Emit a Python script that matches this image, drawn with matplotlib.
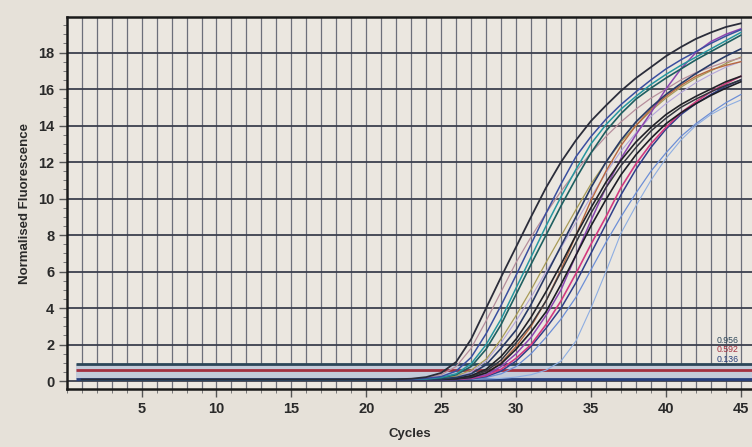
import matplotlib
matplotlib.use("Agg")
import matplotlib.pyplot as plt
from matplotlib.ticker import MultipleLocator

# ---------------- data ----------------
early_cycles = list(range(1, 22))
early_baseline = [0.08] * 21            # flat baseline of all traces, cycles 1-21
late_cycles = list(range(22, 46))       # cycles 22..45

curve_black_a = [0.10,0.13,0.22,0.45,1.05,2.30,4.00,5.70,7.35,9.00,10.60,12.00,13.20,14.25,15.10,15.90,16.60,17.20,17.80,18.30,18.75,19.10,19.40,19.60]
curve_mauve   = [0.10,0.12,0.18,0.35,0.80,1.80,3.30,4.90,6.50,7.90,9.20,10.40,11.50,12.50,13.40,14.20,14.90,15.50,16.00,16.50,16.90,17.20,17.50,17.70]
curve_blue    = [0.10,0.10,0.15,0.25,0.55,1.30,2.60,4.15,5.80,7.50,9.20,10.80,12.30,13.40,14.35,15.15,15.85,16.50,17.10,17.60,18.05,18.50,18.90,19.25]
curve_teal    = [0.10,0.10,0.12,0.20,0.40,0.95,2.00,3.40,5.10,6.80,8.50,10.10,11.60,13.00,14.05,14.90,15.60,16.25,16.80,17.30,17.75,18.20,18.65,19.10]
curve_dkteal  = [0.10,0.10,0.12,0.18,0.35,0.80,1.75,3.10,4.75,6.40,8.00,9.60,11.10,12.50,13.70,14.65,15.45,16.05,16.60,17.10,17.60,18.05,18.50,18.95]
curve_olive   = [0.10,0.10,0.10,0.15,0.28,0.60,1.20,2.30,3.60,5.00,6.50,7.95,9.40,10.80,12.00,13.10,14.00,14.80,15.50,16.10,16.60,17.00,17.40,17.75]
curve_lavender= [0.10,0.10,0.10,0.13,0.25,0.50,1.10,2.10,3.30,4.60,6.00,7.30,8.70,10.10,11.40,12.60,13.60,14.50,15.20,15.80,16.35,16.80,17.20,17.50]
curve_navy    = [0.10,0.10,0.10,0.12,0.20,0.40,0.90,1.80,2.80,4.20,5.80,7.40,9.00,10.60,12.00,13.20,14.20,15.00,15.70,16.30,16.85,17.35,17.80,18.20]
curve_black_1 = [0.10,0.10,0.10,0.10,0.15,0.30,0.65,1.35,2.30,3.50,4.90,6.40,8.00,9.50,10.90,12.10,13.10,13.90,14.60,15.15,15.60,16.00,16.40,16.70]
curve_black_2 = [0.10,0.10,0.10,0.10,0.13,0.25,0.55,1.15,2.10,3.10,4.40,6.00,7.60,9.20,10.60,11.80,12.80,13.70,14.40,15.00,15.45,15.85,16.20,16.50]
curve_black_3 = [0.10,0.10,0.10,0.10,0.12,0.20,0.45,0.95,1.75,2.70,3.80,5.30,6.90,8.50,9.95,11.30,12.40,13.30,14.10,14.70,15.20,15.65,16.05,16.40]
curve_purple  = [0.10,0.10,0.10,0.10,0.10,0.18,0.35,0.80,1.50,2.40,3.60,5.00,6.90,8.80,10.60,12.20,13.50,14.70,16.00,17.10,18.00,18.60,19.00,19.30]
curve_pink    = [0.10,0.10,0.10,0.10,0.10,0.15,0.30,0.65,1.25,2.00,3.10,4.40,5.90,7.50,9.00,10.60,11.90,13.00,13.90,14.70,15.30,15.85,16.30,16.70]
curve_orange  = [0.10,0.10,0.10,0.10,0.10,0.20,0.45,1.00,1.90,3.00,4.40,6.10,8.00,9.90,11.50,12.90,14.00,14.90,15.60,16.20,16.70,17.05,17.30,17.50]
curve_dkblue  = [0.10,0.10,0.10,0.10,0.10,0.12,0.25,0.55,1.10,1.90,2.90,4.00,5.40,7.00,8.60,10.20,11.60,12.80,13.80,14.60,15.20,15.70,16.15,16.50]
curve_ltblue1 = [0.10,0.10,0.10,0.10,0.10,0.12,0.20,0.40,0.80,1.50,2.40,3.40,4.60,6.10,7.60,9.00,10.30,11.50,12.50,13.40,14.10,14.70,15.25,15.70]
curve_ltblue2 = [0.10,0.10,0.10,0.10,0.10,0.10,0.12,0.15,0.22,0.35,0.60,1.10,2.20,4.00,6.00,8.10,9.60,11.00,12.20,13.20,14.00,14.60,15.05,15.40]

thresholds = [0.956, 0.592, 0.136]
threshold_labels = ["0.956", "0.592", "0.136"]

x_ticks = [5, 10, 15, 20, 25, 30, 35, 40, 45]
y_ticks = [0, 2, 4, 6, 8, 10, 12, 14, 16, 18]

# ---------------- styling ----------------
plt.rcParams['font.family'] = ['Liberation Sans', 'DejaVu Sans']

fig = plt.figure(figsize=(7.52, 4.47), dpi=100, facecolor='#e6e1d9')
ax = fig.add_axes([0.0887, 0.129, 0.9113, 0.833])
ax.set_facecolor('#ebe7e0')

ax.set_xlim(0, 45.75)
ax.set_ylim(-0.45, 19.95)

# grid
for c in range(1, 46):
    ax.axvline(c, color='#6c6f7a', lw=0.9, zorder=1)
for v in y_ticks:
    ax.axhline(v, color='#3c404e', lw=1.3, zorder=1)

# threshold band and lines
ax.axhspan(thresholds[2], thresholds[0], xmin=0.6 / 45.75, color='#c3cbd9', zorder=2, lw=0)
th_colors = ['#2c4658', '#a3303f', '#263f7c']
for t, col in zip(thresholds, th_colors):
    ax.plot([0.6, 45.75], [t, t], color=col, lw=2.0, zorder=3, solid_capstyle='butt')

series = [
    (curve_ltblue2, '#8eaee2', 0.8),
    (curve_ltblue1, '#6d8fd6', 0.9),
    (curve_lavender, '#b3a6da', 0.8),
    (curve_olive, '#a89b57', 0.9),
    (curve_mauve, '#b68e9c', 0.9),
    (curve_orange, '#b8683f', 1.0),
    (curve_dkblue, '#2f3f8a', 1.1),
    (curve_pink, '#d23a80', 1.2),
    (curve_purple, '#8c45b0', 1.1),
    (curve_black_3, '#1d1e25', 1.2),
    (curve_black_2, '#34363e', 1.1),
    (curve_black_1, '#222228', 1.2),
    (curve_navy, '#283a66', 1.2),
    (curve_dkteal, '#1e5f60', 1.2),
    (curve_teal, '#2596a0', 1.1),
    (curve_blue, '#3a4fa0', 1.1),
    (curve_black_a, '#2b2d3a', 1.3),
]
for vals, col, lw in series:
    xs = early_cycles + late_cycles
    ys = early_baseline + vals
    ax.plot(xs, ys, color=col, lw=lw, zorder=4)

for t, lab, col, yv in zip(thresholds, threshold_labels, th_colors, [2.22, 1.71, 1.20]):
    ax.text(43.4, yv, lab, color=col, fontsize=6.3, ha='left', va='center', zorder=5, clip_on=True)

# spines
for s in ['left', 'bottom', 'top']:
    ax.spines[s].set_linewidth(1.8)
    ax.spines[s].set_color('#1a1a1a')
ax.spines['right'].set_visible(False)

ax.set_xticks(x_ticks)
ax.xaxis.set_minor_locator(MultipleLocator(1))
ax.set_yticks(y_ticks)
ax.yaxis.set_minor_locator(MultipleLocator(0.5))
ax.tick_params(axis='both', which='major', direction='out', length=6, width=1.0,
               color='#555555', labelsize=10.5, labelcolor='#2a2a2a', pad=3)
ax.tick_params(axis='both', which='minor', direction='out', length=3, width=0.7, color='#777777')
for lab in ax.get_xticklabels() + ax.get_yticklabels():
    lab.set_fontweight('bold')

ax.set_xlabel('Cycles', fontsize=9.5, fontweight='bold', color='#2a2a2a', labelpad=9)
ax.set_ylabel('Normalised Fluorescence', fontsize=9.5, fontweight='bold', color='#2a2a2a', labelpad=5)

fig.savefig('out.png', dpi=100, facecolor=fig.get_facecolor())
